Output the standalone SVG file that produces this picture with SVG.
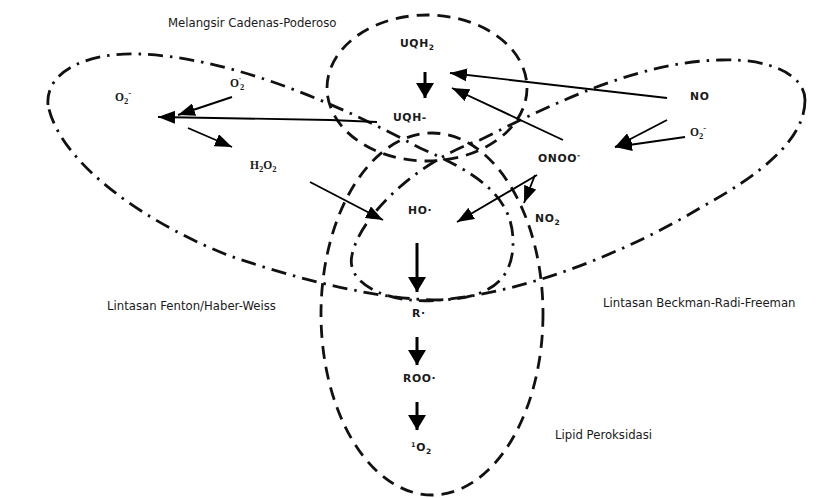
<svg xmlns="http://www.w3.org/2000/svg" width="840" height="498" viewBox="0 0 840 498">
<style>
.dash{fill:none;stroke:#111;stroke-width:2.8;stroke-dasharray:13 8}
.dd{fill:none;stroke:#111;stroke-width:2.8;stroke-dasharray:15 7 2.5 7}
.ar{fill:none;stroke:#000;stroke-width:1.9}
.vb{fill:none;stroke:#000;stroke-width:3}
.lbl{font-family:"DejaVu Sans","Liberation Sans",sans-serif;font-size:11.7px;fill:#1a1a1a}
.chem{font-family:"DejaVu Sans","Liberation Sans",sans-serif;font-size:10.8px;font-weight:bold;fill:#1a1a1a;letter-spacing:0.6px}
.ser{font-family:"Liberation Serif","DejaVu Serif",serif;font-size:11.5px;font-weight:bold;fill:#1a1a1a}
</style>
<defs>
<marker id="ah" viewBox="0 0 17 13" refX="17" refY="6.5" markerWidth="17" markerHeight="13" markerUnits="userSpaceOnUse" orient="auto"><path d="M0,0 L17,6.5 L0,13 z" fill="#000"/></marker>
<marker id="ahb" viewBox="0 0 15 18" refX="15" refY="9" markerWidth="15" markerHeight="18" markerUnits="userSpaceOnUse" orient="auto"><path d="M0,0 L15,9 L0,18 z" fill="#000"/></marker>
</defs>
<rect width="840" height="498" fill="#fff"/>

<g id="regions">
<g id="melangsir-circle"><ellipse class="dash" cx="427" cy="88" rx="100" ry="73"/></g>
<g id="lipid-ellipse"><ellipse class="dash" cx="432" cy="314" rx="111" ry="181"/></g>
<g id="fenton-loop"><path class="dd" d="M48,105 C45,70 90,52 140,54 C230,58 330,100 420,148 C475,172 512,195 513,240 C514,280 490,298 440,300 C380,300 300,280 230,256 C150,225 60,165 48,105 Z"/></g>
<g id="beckman-loop"><path class="dd" d="M805,100 C805,140 760,175 700,208 C630,250 530,292 440,300 C390,305 345,285 352,255 C360,215 420,160 480,140 C560,100 640,62 720,60 C770,58 805,75 805,100 Z"/></g>
</g>

<g id="connectors">
<line class="vb" x1="425" y1="72" x2="425" y2="98" marker-end="url(#ahb)"/>
<line class="ar" x1="667" y1="98" x2="450" y2="73" marker-end="url(#ah)"/>
<line class="ar" x1="563" y1="140" x2="452" y2="88" marker-end="url(#ah)"/>
<polyline class="ar" points="377,122 330,120 158,117" marker-end="url(#ah)"/>
<line class="ar" x1="232" y1="97" x2="178" y2="115" marker-end="url(#ah)"/>
<line class="ar" x1="188" y1="128" x2="232" y2="147" marker-end="url(#ah)"/>
<line class="ar" x1="310" y1="182" x2="383" y2="220" marker-end="url(#ah)"/>
<line class="ar" x1="537" y1="175" x2="457" y2="222" marker-end="url(#ah)"/>
<line class="ar" x1="535" y1="175" x2="524" y2="203" marker-end="url(#ah)"/>
<line class="ar" x1="685" y1="137" x2="615" y2="147" marker-end="url(#ah)"/>
<line class="ar" x1="667" y1="120" x2="615" y2="147" marker-end="url(#ah)"/>
<line class="vb" x1="417" y1="243" x2="417" y2="292" marker-end="url(#ahb)"/>
<line class="vb" x1="417" y1="337" x2="417" y2="365" marker-end="url(#ahb)"/>
<line class="vb" x1="417" y1="402" x2="417" y2="430" marker-end="url(#ahb)"/>
</g>

<g id="n-uqh2"><text class="chem" x="400" y="47">UQH<tspan dy="3" font-size="7.5">2</tspan></text></g>
<g id="n-uqh"><text class="chem" x="393" y="121">UQH-</text></g>
<g id="n-o2m-left"><text class="ser" x="115" y="101">O<tspan dy="3" font-size="8.5">2</tspan><tspan dy="-8" font-size="8.5">-</tspan></text></g>
<g id="n-o2"><text class="ser" x="230" y="87">O<tspan dy="-5" font-size="7">'</tspan><tspan dx="-1" dy="8" font-size="8.5">2</tspan></text></g>
<g id="n-h2o2"><text class="ser" x="250" y="169">H<tspan dy="3" font-size="8.5">2</tspan><tspan dy="-3">O</tspan><tspan dy="3" font-size="8.5">2</tspan></text></g>
<g id="n-no"><text class="chem" x="690" y="100">NO</text></g>
<g id="n-o2m-right"><text class="ser" x="690" y="136">O<tspan dy="3" font-size="8.5">2</tspan><tspan dy="-8" font-size="8.5">-</tspan></text></g>
<g id="n-onoo"><text class="chem" x="538" y="162">ONOO<tspan dy="-4" font-size="7.5">-</tspan></text></g>
<g id="n-no2"><text class="chem" x="535" y="222">NO<tspan dy="3" font-size="7.5">2</tspan></text></g>
<g id="n-ho"><text class="chem" x="408" y="214">HO·</text></g>
<g id="n-r"><text class="chem" x="412" y="317">R·</text></g>
<g id="n-roo"><text class="chem" x="403" y="382">ROO·</text></g>
<g id="n-1o2"><text class="chem" x="411" y="451"><tspan dy="-4" font-size="6.5">1</tspan><tspan dy="4">O</tspan><tspan dy="3" font-size="7.5">2</tspan></text></g>

<g id="labels">
<text class="lbl" x="168" y="27">Melangsir Cadenas-Poderoso</text>
<text class="lbl" x="107" y="310">Lintasan Fenton/Haber-Weiss</text>
<text class="lbl" x="603" y="307">Lintasan Beckman-Radi-Freeman</text>
<text class="lbl" x="555" y="439">Lipid Peroksidasi</text>
</g>
</svg>
